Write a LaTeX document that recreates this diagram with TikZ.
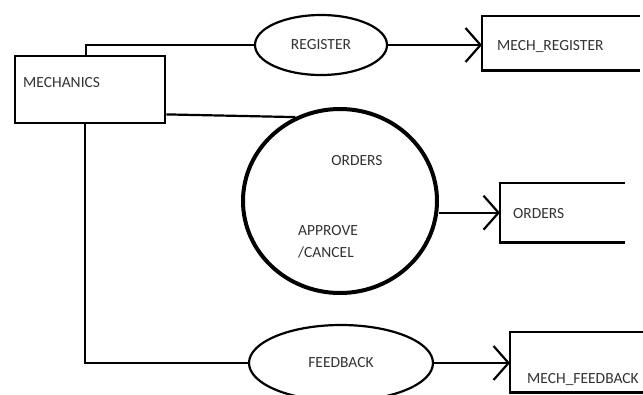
\documentclass[tikz,border=0pt]{standalone}
\usepackage{fontspec}
\setmainfont{Carlito}
\usetikzlibrary{shapes.geometric,arrows.meta,calc}
\begin{document}
\begin{tikzpicture}[x=1pt,y=-1pt,
  lbl/.style={font=\fontsize{15.5}{18}\selectfont, text=black!80, inner sep=0pt},
  entbox/.style={draw, line width=2.4pt, rectangle, inner sep=0pt},
  proc/.style={draw, line width=2.2pt, ellipse, inner sep=0pt, lbl},
  bigproc/.style={draw, line width=4pt, ellipse, inner sep=0pt},
  conn/.style={line width=2.2pt},
  flow/.style={conn, -{Straight Barb[length=15pt,width=34pt]}},
  storebox/.style={rectangle, inner sep=0pt},
  storeline/.style={line width=2.4pt}]
\clip (0,0) rectangle (643,394);
\fill[white] (0,0) rectangle (643,394);

% external entity
\node[entbox, anchor=north west, minimum width=150pt, minimum height=67pt] (mech) at (14,55) {};
\node[lbl, anchor=base west] (mecht) at (23,87) {MECHANICS};

% processes
\node[proc, minimum width=132pt, minimum height=60pt] (reg) at (321,45) {REGISTER};
\node[bigproc, minimum width=194pt, minimum height=184pt] (ord) at (340,201) {};
\node[lbl, anchor=base] (ordt) at (357,165) {ORDERS};
\node[lbl, anchor=base west] (appr) at (298,235) {APPROVE};
\node[lbl, anchor=base west] (canc) at (298,257) {/CANCEL};
\node[proc, minimum width=184pt, minimum height=76pt] (fb) at (341,363) {FEEDBACK};

% data stores
\node[storebox, anchor=north west, minimum width=158pt, minimum height=54pt] (mr) at (482,16) {};
\draw[storeline] (mr.north east) -- (mr.north west) -- (mr.south west) -- (mr.south east);
\node[lbl, anchor=base west] (mrt) at (497,50) {MECH\_REGISTER};

\node[storebox, anchor=north west, minimum width=125pt, minimum height=59pt] (os) at (500,183) {};
\draw[storeline] (os.north east) -- (os.north west) -- (os.south west) -- (os.south east);
\node[lbl, anchor=base west] (ost) at (513,218) {ORDERS};

\node[storebox, anchor=north west, minimum width=150pt, minimum height=60pt] (mf) at (510,332) {};
\draw[storeline] (mf.north east) -- (mf.north west) -- (mf.south west) -- (mf.south east);
\node[lbl, anchor=base west] (mft) at (527,383) {MECH\_FEEDBACK};

% connectors
\draw[conn] ($(mech.north west)+(72,0)$) |- (reg.west);
\draw[conn] ($(mech.south east)+(0,-10)$) -- (ord.118);
\draw[conn] ($(mech.south west)+(71,0)$) |- (fb.west);

\draw[flow] (reg.east) -- (reg.east -| mr.west);
\draw[flow] (ord.east |- os.west) -- (os.west);
\draw[flow] (fb.east) -- (fb.east -| mf.west);
\end{tikzpicture}
\end{document}
